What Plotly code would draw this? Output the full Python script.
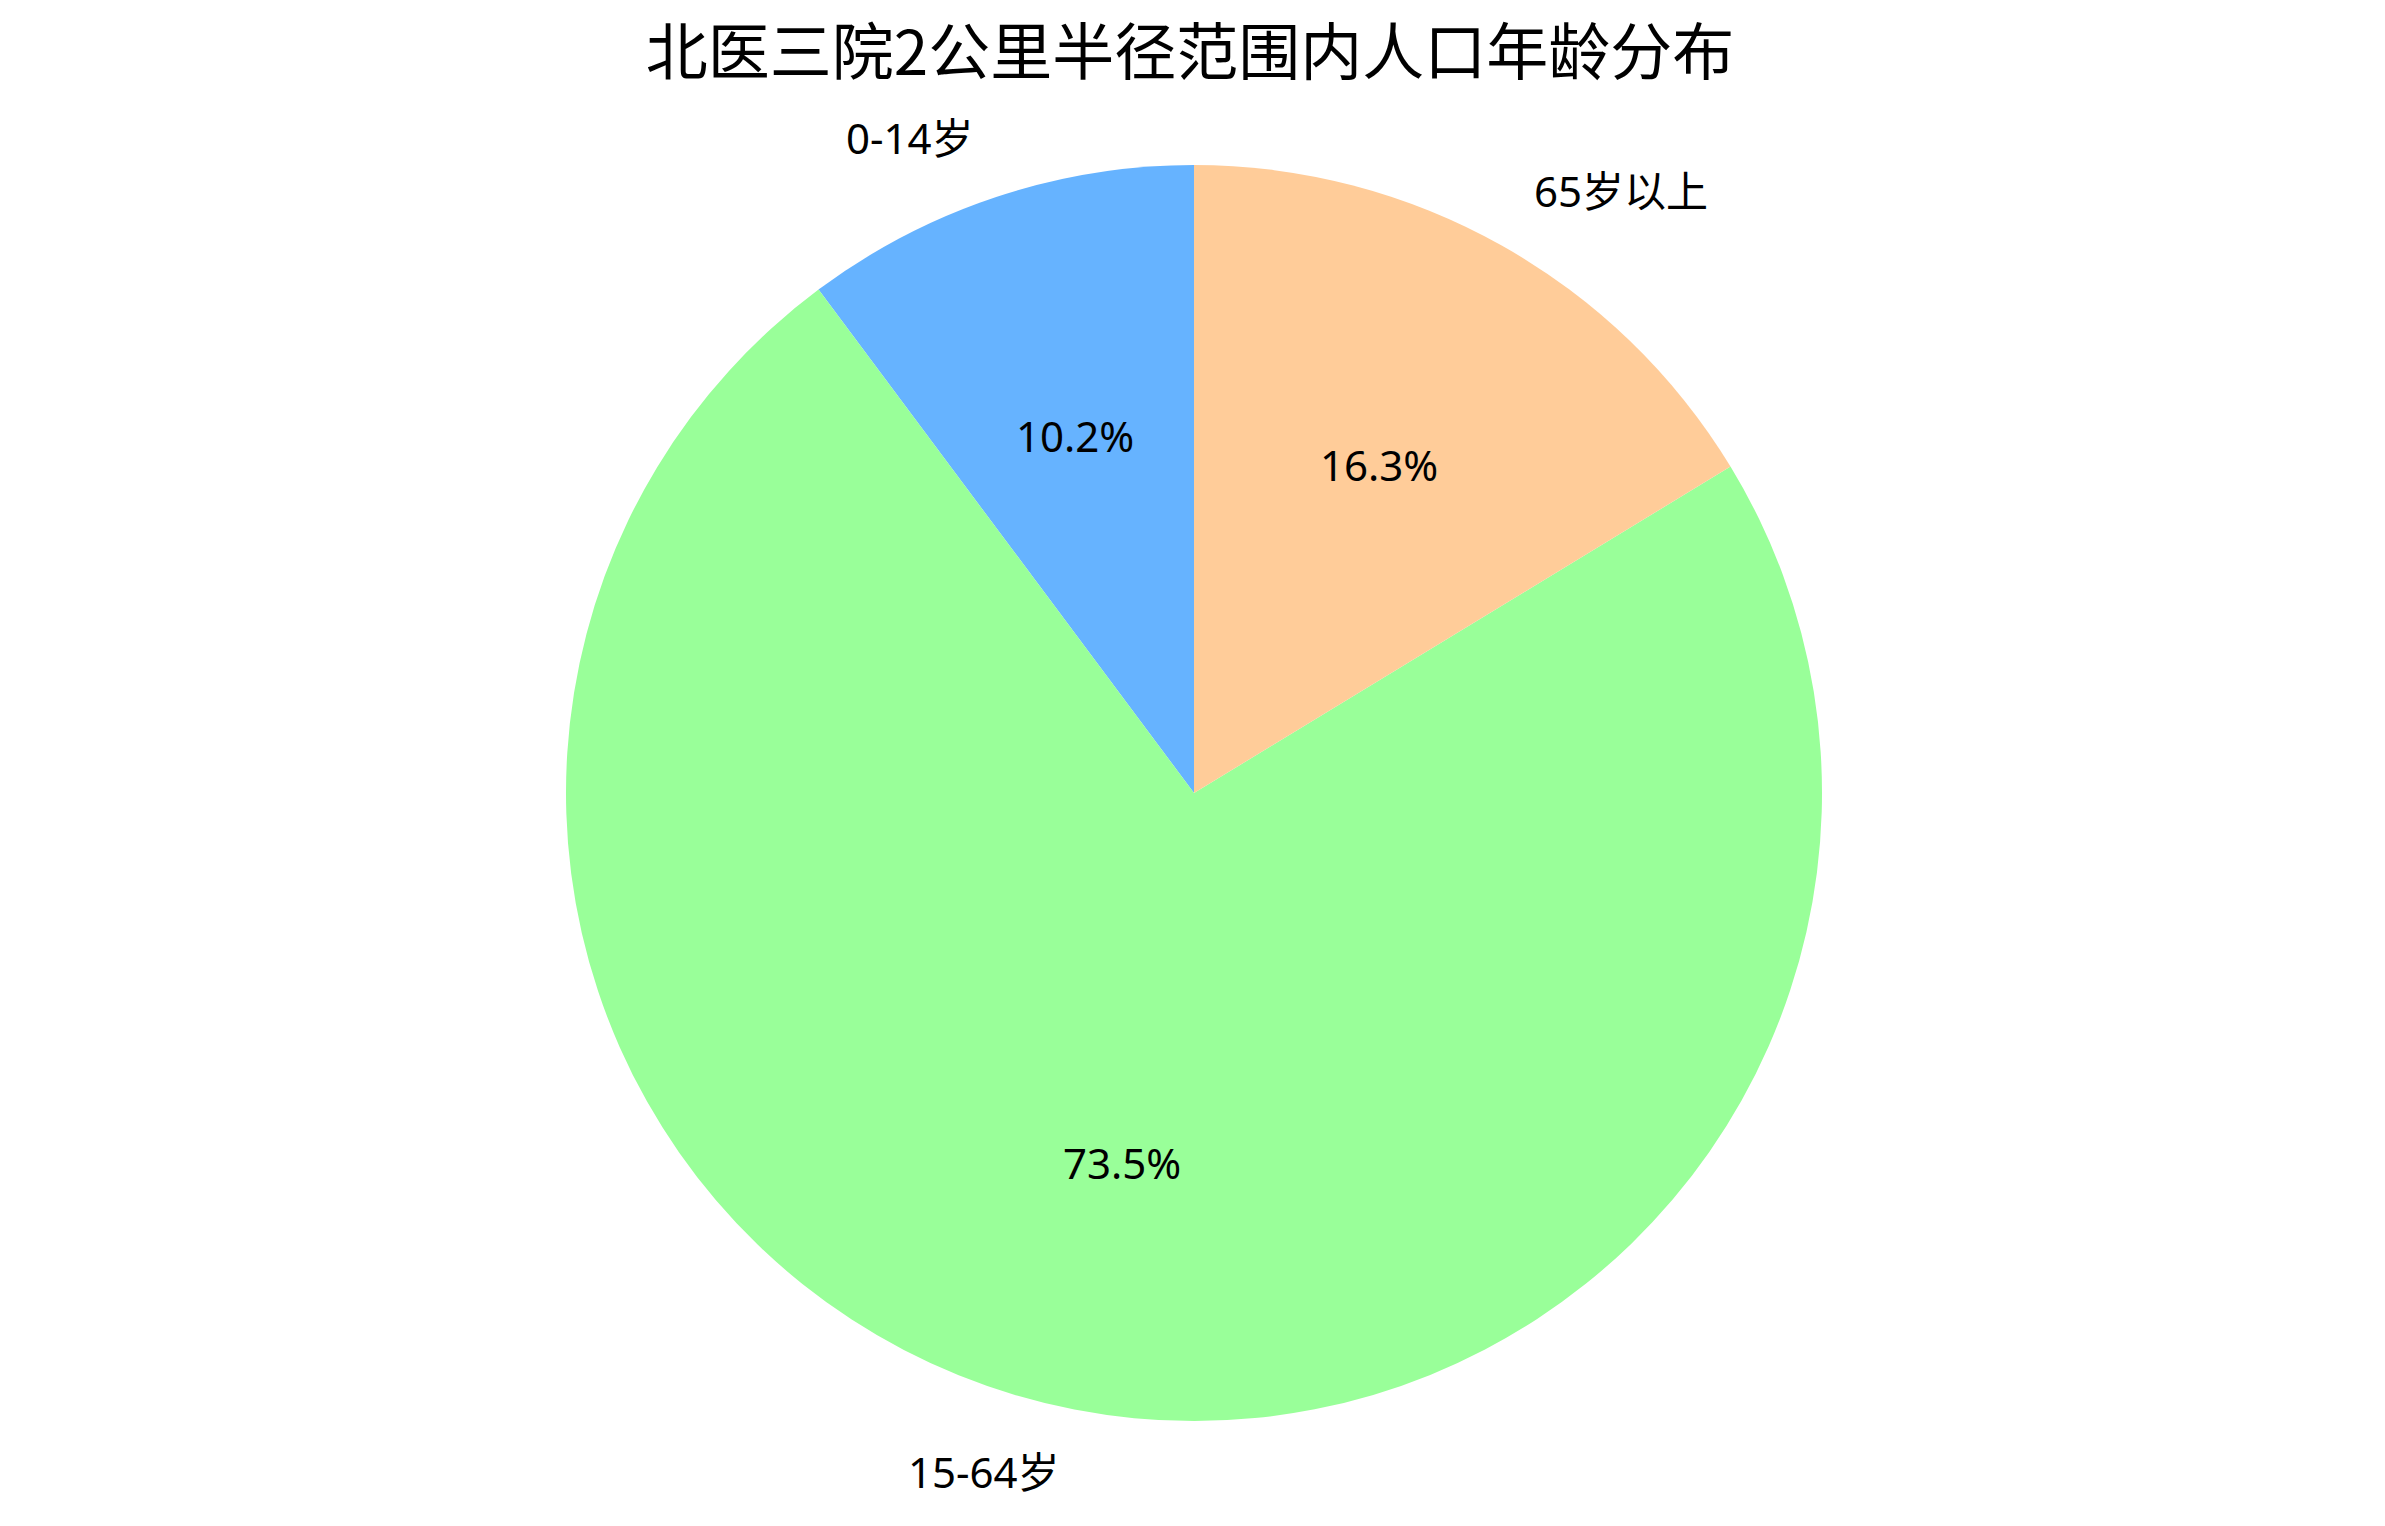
import math
import plotly.graph_objects as go

# Data
labels = ["0-14岁", "15-64岁", "65岁以上"]
shares = [10.2, 73.5, 16.3]
colors = ["#66b3ff", "#99ff99", "#ffcc99"]
title_text = "北医三院2公里半径范围内人口年龄分布"

W, H = 2385, 1526
cx, cy, r = 1186, 785, 628  # pie centre / radius in px

total = sum(shares)

# plotly's counterclockwise pies put the first slice to the right of 12 o'clock,
# so rotate back by the first slice to start it at the top like matplotlib
fig = go.Figure(go.Pie(
    labels=labels,
    values=shares,
    marker=dict(colors=colors, line=dict(width=0)),
    sort=False,
    direction="counterclockwise",
    rotation=-360 * shares[0] / total,
    textinfo="none",
    hoverinfo="label+percent",
    domain=dict(x=[(cx - r) / W, (cx + r) / W],
                y=[1 - (cy + r) / H, 1 - (cy - r) / H]),
))

# matplotlib-style labels (1.1 r) and percentages (0.6 r), counter-clockwise from 12 o'clock
start = 90.0
font = "Noto Sans, Noto Sans CJK SC, sans-serif"
for lab, v in zip(labels, shares):
    mid = math.radians(start + 360 * v / total / 2)
    start += 360 * v / total
    c, s = math.cos(mid), math.sin(mid)
    fig.add_annotation(
        x=(cx + 1.1 * r * c) / W, y=1 - (cy - 1.1 * r * s) / H,
        xref="paper", yref="paper", text=lab, showarrow=False,
        xanchor="left" if c > 0 else "right", yanchor="middle",
        font=dict(family=font, size=42, color="black"),
    )
    fig.add_annotation(
        x=(cx + 0.6 * r * c) / W, y=1 - (cy - 0.6 * r * s) / H,
        xref="paper", yref="paper", text=f"{v / total * 100:.1f}%", showarrow=False,
        xanchor="center", yanchor="middle",
        font=dict(family=font, size=42, color="black"),
    )

fig.update_layout(
    width=W, height=H,
    margin=dict(l=0, r=0, t=0, b=0),
    paper_bgcolor="white",
    showlegend=False,
    title=dict(text=title_text, x=1182 / W, xanchor="center", y=1 - 45 / H, yanchor="middle",
               font=dict(family="Noto Sans CJK SC, sans-serif", size=62, color="black")),
)

fig.write_html("out.html")
